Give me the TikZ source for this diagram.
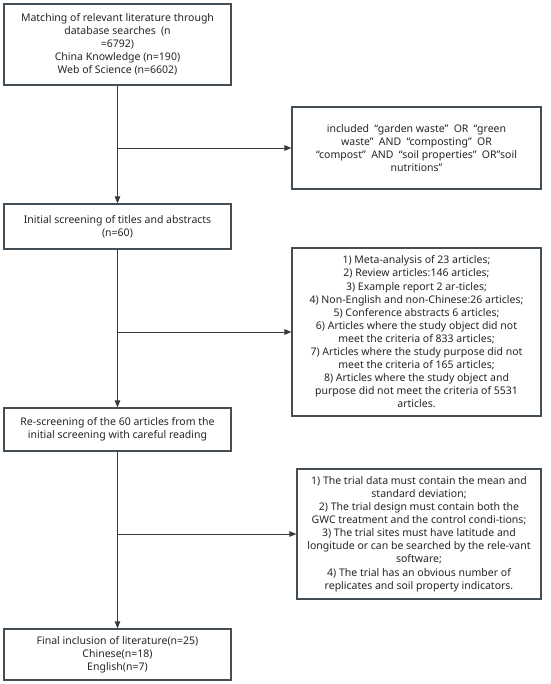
\documentclass[tikz,border=0pt]{standalone}
\usepackage{fontspec}
\setmainfont{Noto Sans}
\usetikzlibrary{arrows.meta,calc}
\definecolor{boxc}{HTML}{454D55}
\definecolor{txtc}{HTML}{262626}
\definecolor{linec}{HTML}{3A3A3A}
\tikzset{
  box/.style={draw=boxc, line width=1.2pt, fill=white, text=txtc, align=center,
    inner sep=0pt, font=\fontsize{10.5}{13.1}\selectfont},
  conn/.style={draw=linec, line width=0.9pt},
  arr/.style={conn, -{Triangle[length=7pt,width=5.5pt]}}
}
\begin{document}
\begin{tikzpicture}[x=1pt,y=-1pt]
\useasboundingbox (0,0) rectangle (550,684);
\node[box, minimum width=227pt, minimum height=81pt] (b1) at (117.5,44.5)
  {Matching of relevant literature through\\database searches\enspace(n\\=6792)\\China Knowledge (n=190)\\Web of Science (n=6602)};
\node[box, minimum width=249pt, minimum height=82pt] (b2) at (416.5,148)
  {included\enspace“garden waste”\enspace OR\enspace“green\\waste”\enspace AND\enspace“composting”\enspace OR\\“compost”\enspace AND\enspace“soil properties”\enspace OR"soil\\nutritions”};
\node[box, minimum width=227pt, minimum height=45pt] (b3) at (117.5,226.5)
  {Initial screening of titles and abstracts\\(n=60)};
\node[box, minimum width=249pt, minimum height=168pt] (b4) at (416.5,332)
  {1) Meta-analysis of 23 articles;\\2) Review articles:146 articles;\\3) Example report 2 ar-ticles;\\4) Non-English and non-Chinese:26 articles;\\5) Conference abstracts 6 articles;\\6) Articles where the study object did not\\meet the criteria of 833 articles;\\7) Articles where the study purpose did not\\meet the criteria of 165 articles;\\8) Articles where the study object and\\purpose did not meet the criteria of 5531\\articles.};
\node[box, minimum width=227pt, minimum height=43pt] (b5) at (117.5,429.5)
  {Re-screening of the 60 articles from the\\initial screening with careful reading};
\node[box, minimum width=244pt, minimum height=130pt] (b6) at (419,534)
  {1) The trial data must contain the mean and\\standard deviation;\\2) The trial design must contain both the\\GWC treatment and the control condi-tions;\\3) The trial sites must have latitude and\\longitude or can be searched by the rele-vant\\software;\\4) The trial has an obvious number of\\replicates and soil property indicators.};
\node[box, minimum width=227pt, minimum height=51pt] (b7) at (117.5,654.5)
  {Final inclusion of literature(n=25)\\Chinese(n=18)\\English(n=7)};
\coordinate (j1) at (b1.south |- b2.west);
\coordinate (j2) at (b3.south |- b4.west);
\coordinate (j3) at (b5.south |- b6.west);
\draw[arr] (b1.south) -- (b3.north);
\draw[arr] (j1) -- (b2.west);
\draw[arr] (b3.south) -- (b5.north);
\draw[arr] (j2) -- (b4.west);
\draw[arr] (b5.south) -- (b7.north);
\draw[arr] (j3) -- (b6.west);
\end{tikzpicture}
\end{document}
